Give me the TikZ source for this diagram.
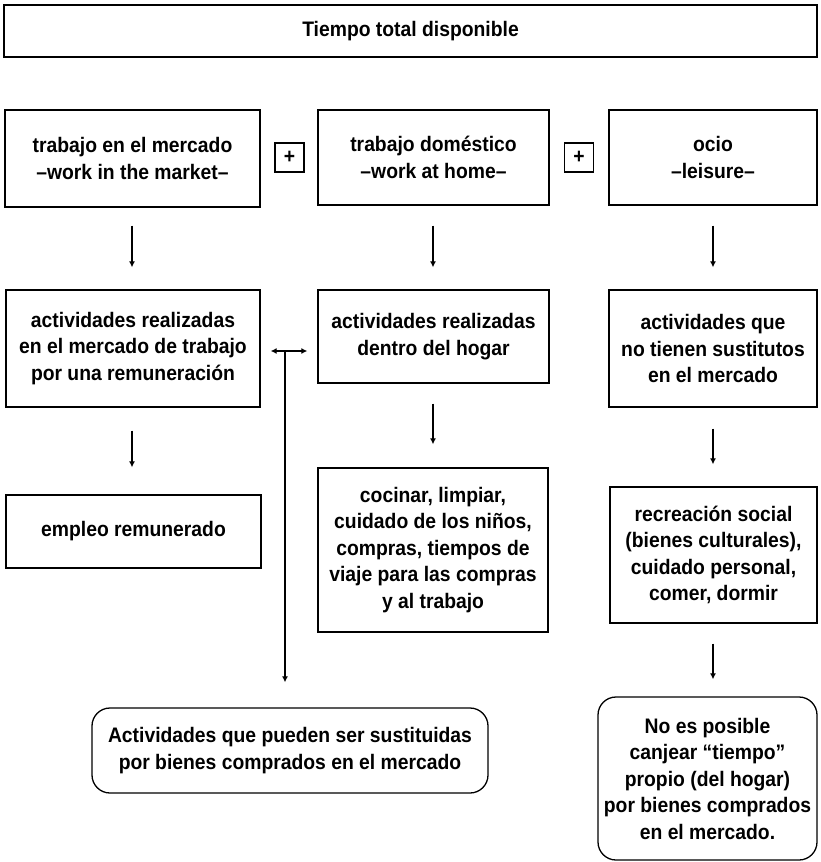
\documentclass[tikz,border=0pt]{standalone}
\usepackage{fontspec}
\setmainfont{Liberation Sans}[FakeStretch=0.92]
\usetikzlibrary{arrows.meta}
\begin{document}
\begin{tikzpicture}[x=1pt,y=-1pt,
  every node/.style={font=\fontsize{21}{26.5}\selectfont\bfseries},
  box/.style={draw, line width=1.3pt, align=center, inner sep=0pt},
  rbox/.style={box, rounded corners=18pt},
  plusbox/.style={draw, line width=1.3pt, inner sep=0pt, minimum width=29pt, minimum height=29pt},
  arr/.style={line width=1.3pt, -{Latex[length=6pt,width=6pt]}},
  darr/.style={line width=1.3pt, {Latex[length=6pt,width=6pt]}-{Latex[length=6pt,width=6pt]}}]
\useasboundingbox (0,0) rectangle (820,862);

\node[box, minimum width=813pt, minimum height=52pt] (top) at (410.5,31) {Tiempo total disponible};

\node[box, minimum width=255pt, minimum height=97pt] (b1) at (132.5,158.5) {trabajo en el mercado\\--work in the market--};
\node[plusbox] (p1) at (289.5,157.5) {+};
\node[box, minimum width=231pt, minimum height=95pt] (b2) at (433.5,157.5) {trabajo doméstico\\--work at home--};
\node[plusbox] (p2) at (579,157.5) {+};
\node[box, minimum width=208pt, minimum height=95pt] (b3) at (713,157.5) {ocio\\--leisure--};

\node[box, minimum width=254pt, minimum height=117pt] (b4) at (133,348.5) {actividades realizadas\\en el mercado de trabajo\\por una remuneración};
\node[box, minimum width=231pt, minimum height=93pt] (b5) at (433.5,336.5) {actividades realizadas\\dentro del hogar};
\node[box, minimum width=208pt, minimum height=117pt] (b6) at (713,348.5) {actividades que\\no tienen sustitutos\\en el mercado};

\node[box, minimum width=255pt, minimum height=73pt] (b7) at (133.5,531.5) {empleo remunerado};
\node[box, minimum width=230pt, minimum height=164pt] (b8) at (433,550) {cocinar, limpiar,\\cuidado de los niños,\\compras, tiempos de\\viaje para las compras\\y al trabajo};
\node[box, minimum width=207pt, minimum height=136pt] (b9) at (713.5,555) {recreación social\\(bienes culturales),\\cuidado personal,\\comer, dormir};

\node[rbox, minimum width=396pt, minimum height=85pt] (b10) at (290,750.5) {Actividades que pueden ser sustituidas\\por bienes comprados en el mercado};
\node[rbox, minimum width=219pt, minimum height=163pt] (b11) at (707.5,778.5) {No es posible\\canjear “tiempo”\\propio (del hogar)\\por bienes comprados\\en el mercado.};

% short vertical arrows
\draw[arr, shorten <=18pt, shorten >=22pt] (b1.south -| 132,0) -- (b4.north -| 132,0);
\draw[arr, shorten <=20pt, shorten >=22pt] (b2.south -| 433,0) -- (b5.north -| 433,0);
\draw[arr, shorten <=20pt, shorten >=22pt] (b3.south -| 713,0) -- (b6.north -| 713,0);
\draw[arr, shorten <=23pt, shorten >=27pt] (b4.south -| 132,0) -- (b7.north -| 132,0);
\draw[arr, shorten <=20pt, shorten >=23pt] (b5.south -| 433,0) -- (b8.north -| 433,0);
\draw[arr, shorten <=21pt, shorten >=22pt] (b6.south -| 713,0) -- (b9.north -| 713,0);
\draw[arr, shorten <=20pt, shorten >=17pt] (b9.south -| 713,0) -- (b11.north -| 713,0);

% double arrow and branch
\coordinate (hl) at (b4.east |- 0,351);
\coordinate (hr) at (b5.west |- 0,351);
\coordinate (hv) at (285,351);
\draw[darr, shorten <=10pt, shorten >=10pt] (hl) -- (hr);
\draw[arr, shorten >=25pt] (hv) -- (hv |- b10.north);
\end{tikzpicture}
\end{document}
